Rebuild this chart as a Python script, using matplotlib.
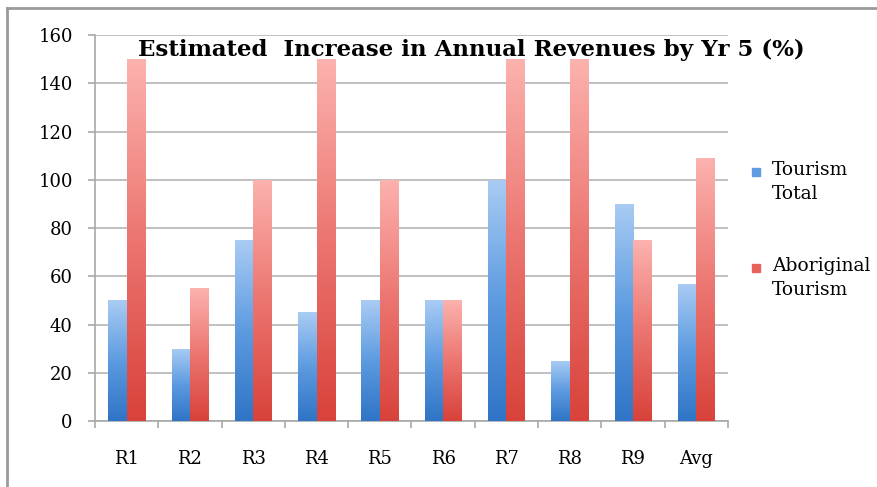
import numpy as np
import matplotlib
matplotlib.use("Agg")
import matplotlib.pyplot as plt
from matplotlib.colors import LinearSegmentedColormap
from matplotlib.patches import Rectangle
from matplotlib.lines import Line2D

categories = ["R1", "R2", "R3", "R4", "R5", "R6", "R7", "R8", "R9", "Avg"]
tourism_total = [50, 30, 75, 45, 50, 50, 100, 25, 90, 57]
aboriginal_tourism = [150, 55, 100, 150, 100, 50, 150, 150, 75, 109]
series_labels = ["Tourism\nTotal", "Aboriginal\nTourism"]
title = "Estimated  Increase in Annual Revenues by Yr 5 (%)"
yticks = [0, 20, 40, 60, 80, 100, 120, 140, 160]

plt.rcParams['font.family'] = ['DejaVu Serif']

W, H = 877, 487
fig = plt.figure(figsize=(W / 100, H / 100), dpi=100)
ax = fig.add_axes([0.1083, 0.1355, 0.7217, 0.7925])

x = np.arange(len(categories))
w = 0.29
blue_cmap = LinearSegmentedColormap.from_list("b", ["#2f74c6", "#5d9be0", "#a9ccf4"])
red_cmap = LinearSegmentedColormap.from_list("r", ["#d8423a", "#ec7570", "#fcb2ae"])

b1 = ax.bar(x - w / 2, tourism_total, w, color="#6aa3e4", zorder=2)
b2 = ax.bar(x + w / 2, aboriginal_tourism, w, color="#ef8580", zorder=2)

grad = np.linspace(0, 1, 256).reshape(-1, 1)
for bars, cmap in ((b1, blue_cmap), (b2, red_cmap)):
    for p in bars:
        x0, y0 = p.get_x(), p.get_y()
        bw, bh = p.get_width(), p.get_height()
        im = ax.imshow(grad, cmap=cmap, origin="lower", aspect="auto",
                       extent=(x0, x0 + bw, y0, y0 + bh), zorder=3)
        im.set_clip_path(p)
        p.set_alpha(0)

ax.set_xlim(-0.5, len(categories) - 0.5)
ax.set_ylim(0, 160)
ax.set_yticks(yticks)
ax.yaxis.grid(True, color="#b5b5b5", linewidth=1.2, zorder=0)
ax.set_axisbelow(True)
for s in ("top", "right"):
    ax.spines[s].set_visible(False)
for s in ("left", "bottom"):
    ax.spines[s].set_color("#a8a8a8")
    ax.spines[s].set_linewidth(1.2)

ax.set_xticks(x)
ax.set_xticklabels(categories)
ax.set_xticks(np.arange(len(categories) + 1) - 0.5, minor=True)
ax.tick_params(axis="x", which="major", length=0, pad=21, labelsize=13)
ax.tick_params(axis="x", which="minor", length=5, color="#a8a8a8", width=1.2)
ax.tick_params(axis="y", length=5, color="#a8a8a8", width=1.2, pad=11, labelsize=13)

ax.text(0.594, 0.99, title, transform=ax.transAxes, ha="center", va="top",
        fontsize=16.5, fontweight="bold", clip_on=False)

# legend (drawn manually: marker beside the first line of each label)
leg_colors = ["#5f9be0", "#e8625c"]
leg_y = [172, 268]
for lab, col, yy in zip(series_labels, leg_colors, leg_y):
    fig.add_artist(Rectangle((752 / W, 1 - (yy + 4) / H), 8 / W, 8 / H,
                             transform=fig.transFigure, color=col))
    fig.text(772 / W, 1 - (yy - 11) / H, lab, ha="left", va="top",
             fontsize=13.5, linespacing=1.45)

# outer frame
fig.add_artist(Line2D([0.008, 1.0], [0.983, 0.983], transform=fig.transFigure, color="#9a9a9a", lw=2))
fig.add_artist(Line2D([0.008, 0.008], [0.0, 0.983], transform=fig.transFigure, color="#9a9a9a", lw=2))

fig.savefig("out.png", dpi=100)
